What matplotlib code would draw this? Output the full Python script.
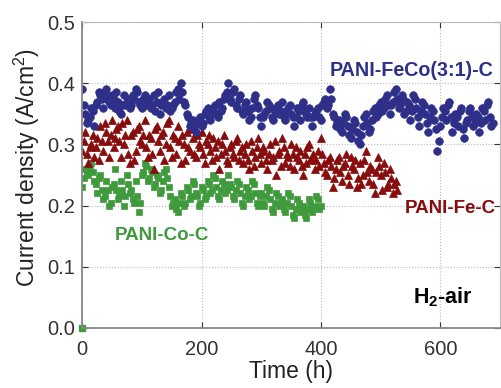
import numpy as np
import matplotlib
matplotlib.use("Agg")
import matplotlib.pyplot as plt

plt.rcParams['font.family'] = ['Liberation Sans', 'DejaVu Sans']
plt.rcParams['mathtext.fontset'] = 'custom'
plt.rcParams['mathtext.rm'] = 'Liberation Sans'
plt.rcParams['mathtext.bf'] = 'Liberation Sans:bold'

# current recorded every 2.5 h; "a" lists on the whole 5 h marks, "b" lists half way between
step = 5
half = 2.5

# PANI-FeCo(3:1)-C, 0-687.5 h
feco_a = [0.39, 0.35, 0.34, 0.36, 0.33, 0.37, 0.38, 0.36, 0.39, 0.37,
          0.38, 0.36, 0.37, 0.35, 0.38, 0.37, 0.36, 0.38, 0.39, 0.37,
          0.36, 0.38, 0.37, 0.36, 0.38, 0.37, 0.35, 0.37, 0.36, 0.38,
          0.36, 0.37, 0.39, 0.40, 0.37, 0.35, 0.33, 0.34, 0.32, 0.34,
          0.33, 0.35, 0.36, 0.34, 0.36, 0.35, 0.37, 0.36, 0.38, 0.40,
          0.37, 0.39, 0.36, 0.38, 0.35, 0.37, 0.34, 0.36, 0.38, 0.36,
          0.33, 0.35, 0.37, 0.36, 0.34, 0.36, 0.35, 0.37, 0.34, 0.36,
          0.35, 0.33, 0.36, 0.34, 0.37, 0.35, 0.36, 0.33, 0.35, 0.36,
          0.34, 0.37, 0.36, 0.39, 0.35, 0.33, 0.34, 0.32, 0.35, 0.33,
          0.31, 0.34, 0.32, 0.30, 0.33, 0.35, 0.32, 0.34, 0.36, 0.35,
          0.37, 0.36, 0.38, 0.35, 0.37, 0.39, 0.36, 0.38, 0.35, 0.37,
          0.34, 0.38, 0.36, 0.33, 0.37, 0.35, 0.32, 0.36, 0.34, 0.29,
          0.33, 0.36, 0.34, 0.37, 0.32, 0.35, 0.33, 0.36, 0.31, 0.34,
          0.36, 0.33, 0.35, 0.32, 0.36, 0.34, 0.37, 0.33]
feco_b = [0.365, 0.335, 0.345, 0.355, 0.365, 0.385, 0.375, 0.385, 0.375, 0.365,
          0.375, 0.385, 0.355, 0.365, 0.365, 0.375, 0.365, 0.375, 0.385, 0.365,
          0.375, 0.365, 0.375, 0.365, 0.355, 0.385, 0.365, 0.375, 0.365, 0.355,
          0.365, 0.385, 0.375, 0.385, 0.365, 0.345, 0.335, 0.325, 0.335, 0.345,
          0.335, 0.355, 0.345, 0.355, 0.365, 0.345, 0.355, 0.375, 0.385, 0.375,
          0.385, 0.365, 0.375, 0.355, 0.365, 0.355, 0.345, 0.375, 0.365, 0.345,
          0.345, 0.355, 0.365, 0.345, 0.355, 0.365, 0.355, 0.345, 0.355, 0.365,
          0.345, 0.345, 0.355, 0.365, 0.355, 0.345, 0.345, 0.345, 0.355, 0.345,
          0.365, 0.375, 0.365, 0.375, 0.345, 0.335, 0.325, 0.335, 0.345, 0.315,
          0.325, 0.335, 0.305, 0.315, 0.345, 0.335, 0.325, 0.355, 0.345, 0.365,
          0.355, 0.375, 0.365, 0.365, 0.385, 0.375, 0.365, 0.375, 0.355, 0.365,
          0.355, 0.375, 0.345, 0.355, 0.365, 0.335, 0.345, 0.355, 0.325, 0.305,
          0.345, 0.355, 0.365, 0.345, 0.335, 0.345, 0.355, 0.325, 0.335, 0.355,
          0.345, 0.335, 0.345, 0.335, 0.355, 0.365, 0.345, 0.335]

# PANI-Fe-C, 0-527.5 h
fe_a = [0.29, 0.32, 0.27, 0.30, 0.28, 0.31, 0.33, 0.29, 0.32, 0.28,
        0.34, 0.31, 0.33, 0.28, 0.30, 0.34, 0.27, 0.32, 0.29, 0.33,
        0.30, 0.34, 0.28, 0.31, 0.26, 0.33, 0.29, 0.32, 0.30, 0.34,
        0.28, 0.31, 0.33, 0.27, 0.30, 0.32, 0.29, 0.31, 0.28, 0.30,
        0.32, 0.27, 0.30, 0.29, 0.31, 0.28, 0.26, 0.30, 0.29, 0.27,
        0.30, 0.28, 0.31, 0.29, 0.27, 0.30, 0.26, 0.29, 0.28, 0.31,
        0.27, 0.29, 0.26, 0.30, 0.28, 0.25, 0.29, 0.31, 0.27, 0.28,
        0.30, 0.26, 0.28, 0.29, 0.25, 0.27, 0.30, 0.28, 0.26, 0.29,
        0.31, 0.27, 0.25, 0.28, 0.23, 0.26, 0.28, 0.24, 0.27, 0.25,
        0.28, 0.26, 0.23, 0.27, 0.25, 0.29, 0.24, 0.26, 0.22, 0.28,
        0.25, 0.27, 0.23, 0.26, 0.22, 0.24]
fe_b = [0.305, 0.285, 0.295, 0.315, 0.295, 0.275, 0.305, 0.335, 0.305, 0.315,
        0.295, 0.325, 0.305, 0.335, 0.315, 0.285, 0.315, 0.275, 0.325, 0.305,
        0.315, 0.295, 0.315, 0.285, 0.325, 0.305, 0.315, 0.275, 0.335, 0.295,
        0.315, 0.285, 0.305, 0.315, 0.275, 0.295, 0.325, 0.285, 0.315, 0.295,
        0.285, 0.305, 0.315, 0.275, 0.295, 0.305, 0.285, 0.315, 0.275, 0.295,
        0.285, 0.305, 0.275, 0.295, 0.285, 0.275, 0.305, 0.265, 0.295, 0.285,
        0.295, 0.275, 0.285, 0.275, 0.305, 0.285, 0.265, 0.295, 0.285, 0.265,
        0.285, 0.295, 0.275, 0.265, 0.285, 0.295, 0.275, 0.285, 0.275, 0.265,
        0.285, 0.255, 0.275, 0.265, 0.245, 0.275, 0.255, 0.265, 0.285, 0.235,
        0.265, 0.275, 0.245, 0.235, 0.275, 0.255, 0.265, 0.235, 0.255, 0.265,
        0.225, 0.255, 0.235, 0.245, 0.235, 0.225]

# PANI-Co-C, 0-400 h (plus the start-up point at 0 A/cm2)
co_a = [0.23, 0.26, 0.25, 0.27, 0.24, 0.22, 0.25, 0.21, 0.24, 0.20,
        0.23, 0.26, 0.21, 0.24, 0.20, 0.25, 0.22, 0.21, 0.24, 0.19,
        0.25, 0.27, 0.24, 0.26, 0.23, 0.25, 0.22, 0.24, 0.26, 0.23,
        0.20, 0.21, 0.19, 0.22, 0.20, 0.23, 0.21, 0.24, 0.22, 0.20,
        0.23, 0.21, 0.24, 0.22, 0.25, 0.23, 0.21, 0.24, 0.22, 0.25,
        0.23, 0.21, 0.24, 0.22, 0.20, 0.23, 0.21, 0.24, 0.22, 0.20,
        0.22, 0.20, 0.23, 0.21, 0.19, 0.22, 0.20, 0.21, 0.19, 0.22,
        0.20, 0.18, 0.21, 0.19, 0.20, 0.18, 0.21, 0.19, 0.20, 0.21,
        0.20]
co_b = [0.245, 0.255, 0.265, 0.255, 0.235, 0.245, 0.225, 0.215, 0.225, 0.205,
        0.235, 0.225, 0.215, 0.225, 0.215, 0.235, 0.225, 0.205, 0.215, 0.205,
        0.255, 0.265, 0.245, 0.255, 0.235, 0.245, 0.225, 0.255, 0.245, 0.215,
        0.205, 0.195, 0.205, 0.215, 0.205, 0.225, 0.215, 0.235, 0.215, 0.205,
        0.225, 0.215, 0.235, 0.225, 0.245, 0.215, 0.225, 0.235, 0.225, 0.235,
        0.215, 0.225, 0.235, 0.205, 0.215, 0.225, 0.215, 0.235, 0.205, 0.215,
        0.205, 0.215, 0.225, 0.195, 0.205, 0.215, 0.205, 0.195, 0.205, 0.215,
        0.185, 0.195, 0.205, 0.195, 0.185, 0.195, 0.205, 0.195, 0.215, 0.195]
co_start_t = [0]
co_start = [0.0]

blue = '#2e2f88'
red = '#880c0c'
green = '#3f9a3c'


def times(vals, offset):
    return np.arange(len(vals)) * step + offset


fig = plt.figure(figsize=(5.01, 3.88), dpi=100)
ax = fig.add_axes([0.164, 0.155, 0.834, 0.788])

ms = 5
for vals, off in [(co_a, 0), (co_b, half)]:
    ax.plot(times(vals, off), vals, 's', color=green, ms=ms, mec=green, mew=0.5)
ax.plot(co_start_t, co_start, 's', color=green, ms=ms, mec=green, clip_on=False)
for vals, off in [(fe_a, 0), (fe_b, half)]:
    ax.plot(times(vals, off), vals, '^', color=red, ms=ms + 0.6, mec=red, mew=0.5)
for vals, off in [(feco_a, 0), (feco_b, half)]:
    ax.plot(times(vals, off), vals, 'o', color=blue, ms=ms + 0.5, mec=blue, mew=0.5)

ax.set_xlim(0, 700)
ax.set_ylim(0, 0.5)
ax.set_xticks([0, 200, 400, 600])
ax.set_yticks([0.0, 0.1, 0.2, 0.3, 0.4, 0.5])
ax.set_yticklabels(['0.0', '0.1', '0.2', '0.3', '0.4', '0.5'])
ax.grid(True, linestyle=':', color='#bbbbbb', linewidth=0.8)
ax.set_axisbelow(True)
ax.tick_params(direction='in', top=True, right=True, labelsize=14.5,
               colors='#333333', length=4, pad=5)
ax.tick_params(axis='x', pad=9)
for s in ax.spines.values():
    s.set_color('#888888')
ax.spines['left'].set_linewidth(1.3)
ax.spines['bottom'].set_linewidth(1.3)
ax.spines['top'].set_color('#bbbbbb')
ax.spines['right'].set_color('#bbbbbb')

ax.set_xlabel('Time (h)', fontsize=16.5, color='#222222', va='center')
ax.set_ylabel('Current density (A/cm$^2$)', fontsize=16.5, color='#222222', va='center')
ax.xaxis.set_label_coords(0.5, -0.144)
ax.yaxis.set_label_coords(-0.132, 0.525)

ax.text(415, 0.412, 'PANI-FeCo(3:1)-C', color=blue, fontsize=14.2, fontweight='bold')
ax.text(541, 0.188, 'PANI-Fe-C', color=red, fontsize=13.5, fontweight='bold')
ax.text(55, 0.143, 'PANI-Co-C', color=green, fontsize=13.5, fontweight='bold')
ax.text(555, 0.040, r'H$_\mathbf{2}$-air', color='black', fontsize=15.5, fontweight='bold')

fig.savefig('out.png', dpi=100)
